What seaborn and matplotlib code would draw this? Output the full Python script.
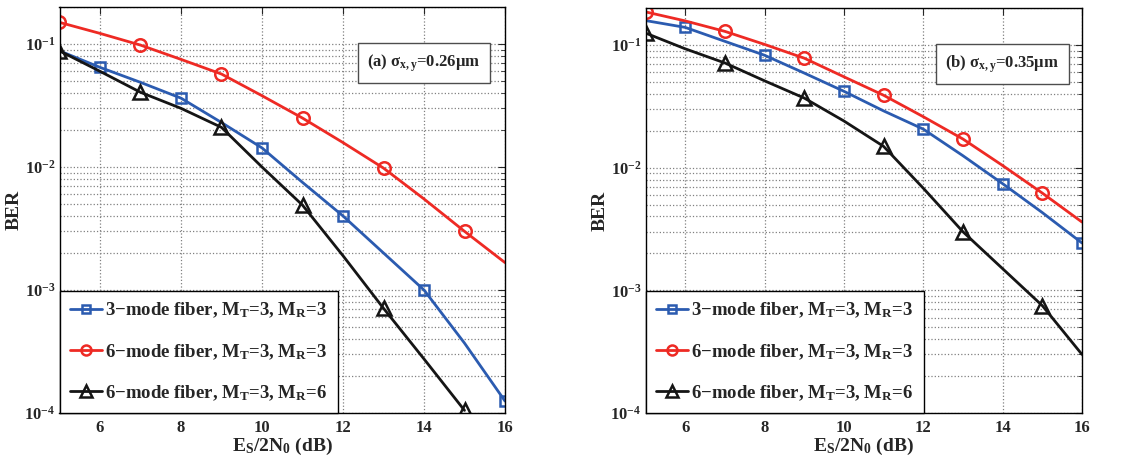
import numpy as np
import pandas as pd
import matplotlib
matplotlib.use("Agg")
import matplotlib.pyplot as plt
import seaborn as sns

# ---------------- data ----------------
snr = [5, 6, 7, 8, 9, 10, 11, 12, 13, 14, 15, 16]

# panel (a) sigma = 0.26 um
a_3mode_33 = [0.088, 0.0646, 0.0488, 0.0363, 0.023, 0.0143, 0.0075, 0.0040, 0.0020, 0.00100, 0.00037, 0.000125]
a_6mode_33 = [0.150, 0.122, 0.098, 0.075, 0.057, 0.038, 0.025, 0.0158, 0.0098, 0.0055, 0.0030, 0.00167]
a_6mode_36 = [0.088, 0.060, 0.0405, 0.030, 0.021, 0.0100, 0.0049, 0.0019, 0.00071, 0.000275, 0.000105]

# panel (b) sigma = 0.35 um
b_3mode_33 = [0.158, 0.139, 0.107, 0.0824, 0.059, 0.0419, 0.029, 0.0206, 0.0125, 0.0074, 0.0043, 0.00243]
b_6mode_33 = [0.186, 0.157, 0.129, 0.101, 0.078, 0.055, 0.0389, 0.026, 0.0171, 0.0104, 0.0062, 0.0036]
b_6mode_36 = [0.125, 0.093, 0.0713, 0.051, 0.0369, 0.024, 0.0149, 0.0068, 0.0030, 0.0015, 0.00075, 0.00030]

labels = [r"3−mode fiber, M$_{\rm T}$=3, M$_{\rm R}$=3",
          r"6−mode fiber, M$_{\rm T}$=3, M$_{\rm R}$=3",
          r"6−mode fiber, M$_{\rm T}$=3, M$_{\rm R}$=6"]
panel_notes = [r"(a) σ$_{\rm x,y}$=0.26µm", r"(b) σ$_{\rm x,y}$=0.35µm"]
xticks = [6, 8, 10, 12, 14, 16]

# ---------------- style ----------------
sns.set_theme(style="white")
plt.rcParams["font.family"] = ["Liberation Serif", "DejaVu Serif"]
plt.rcParams["font.weight"] = "bold"
plt.rcParams["mathtext.fontset"] = "custom"
plt.rcParams["mathtext.rm"] = "Liberation Serif:bold"
plt.rcParams["mathtext.it"] = "Liberation Serif:italic:bold"
plt.rcParams["mathtext.bf"] = "Liberation Serif:bold"
plt.rcParams["mathtext.default"] = "rm"
plt.rcParams["axes.unicode_minus"] = True

colors = ["#2b5bb0", "#ee2a24", "#151515"]
markers = ["s", "o", "^"]
msizes = [7, 9, 10]
mevery = [(1, 2), (0, 2), (0, 2)]

fig = plt.figure(figsize=(11.4, 4.62), dpi=100)
axes = [fig.add_axes([59.5 / 1140, 1 - 413 / 462, 445.5 / 1140, 406 / 462]),
        fig.add_axes([645.5 / 1140, 1 - 413 / 462, 436.5 / 1140, 405 / 462])]

panels = [[a_3mode_33, a_6mode_33, a_6mode_36], [b_3mode_33, b_6mode_33, b_6mode_36]]

for ax, series, note in zip(axes, panels, panel_notes):
    for vals, lab, c, m, ms, me in zip(series, labels, colors, markers, msizes, mevery):
        df = pd.DataFrame({"snr": snr[:len(vals)], "ber": vals})
        sns.lineplot(data=df, x="snr", y="ber", ax=ax, color=c, marker=m,
                     markersize=ms, markerfacecolor="none", markeredgecolor=c,
                     markeredgewidth=1.8, linewidth=2.0, markevery=me,
                     label=lab, estimator=None, sort=False)
    ax.set_yscale("log")
    ax.set_xlim(5, 16)
    ax.set_ylim(1e-4, 0.2)
    ax.set_xticks(xticks)
    ax.set_yticks([1e-4, 1e-3, 1e-2, 1e-1])
    ax.grid(True, which="major", color="0.5", linestyle=":", linewidth=0.9)
    ax.grid(True, which="minor", axis="y", color="0.5", linestyle=":", linewidth=0.9)
    ax.tick_params(which="both", direction="in", top=True, right=True, labelsize=12)
    ax.tick_params(which="major", length=5, width=0.8, pad=3)
    ax.tick_params(axis="x", which="major", pad=5)
    ax.tick_params(which="minor", length=3, width=0.6)
    for lbl in ax.get_xticklabels() + ax.get_yticklabels():
        lbl.set_fontweight("bold")
    for sp in ax.spines.values():
        sp.set_color("black")
        sp.set_linewidth(1.0)
    ax.set_xlabel(r"E$_{\rm S}$/2N$_{\rm 0}$ (dB)", fontsize=14, fontweight="bold", labelpad=0)
    ax.set_ylabel("BER", fontsize=14, fontweight="bold", labelpad=1)
    leg = ax.legend(loc="lower left", borderaxespad=0, fontsize=13.5, frameon=True,
                    fancybox=False, edgecolor="black", handlelength=1.7,
                    handletextpad=0.2, labelspacing=1.15, borderpad=0.55)
    leg.get_frame().set_linewidth(1.0)
    leg.get_frame().set_alpha(1)
    for t in leg.get_texts():
        t.set_fontweight("bold")
    for h in leg.legend_handles:
        h.set_markersize(h.get_markersize() * 0.8)
    ax.text(0.818, 0.862, note, transform=ax.transAxes, fontsize=12, fontweight="bold",
            ha="center", va="center",
            bbox=dict(boxstyle="square,pad=0.55", facecolor="white", edgecolor="0.3", linewidth=1.0))

fig.savefig("out.png", dpi=100)
